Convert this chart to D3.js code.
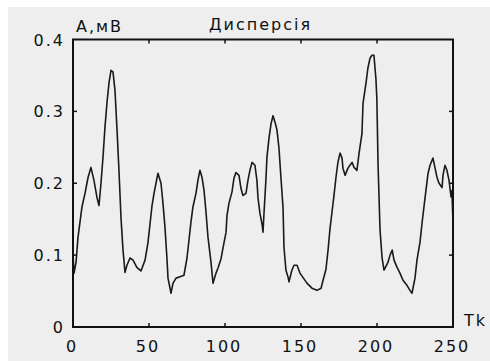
<!DOCTYPE html>
<html>
<head>
<meta charset="utf-8">
<script src="https://cdn.jsdelivr.net/npm/d3@7/dist/d3.min.js"></script>
<style>
  html, body { margin: 0; padding: 0; background: #ffffff; }
  svg { display: block; }
  text { font-family: "DejaVu Sans", Verdana, sans-serif; font-size: 16px; fill: #111; letter-spacing: 2px; }
</style>
</head>
<body>
<svg id="chart" width="490" height="361"></svg>
<script>
// Sample index (Tk) and variance amplitude (A, mV)
const tk = [0, 0.7, 2, 3.3, 5.9, 7.9, 9.9, 11.8, 13.8, 15.8, 17.1, 18.4, 19.7, 21, 22.4, 23.7, 25, 26.3,
  27.6, 28.9, 30.3, 31.6, 32.9, 34.2, 35.5, 37.5, 39.5, 42, 44.7, 47.4, 49.3, 50.7, 52, 53.3, 54.6, 55.9,
  57.9, 59.2, 60.5, 61.8, 62.5, 64.5, 65.8, 67.8, 70.4, 73, 75, 76.3, 77.6, 78.9, 80.9, 82.2, 83.5, 84.9,
  86.2, 87.5, 88.8, 90.8, 92.1, 94.1, 95.4, 97.4, 98.7, 100.7, 101.3, 102.6, 104.6, 105.9, 107.2, 109.2,
  110.5, 111.8, 113.8, 115.1, 116.4, 117.8, 119.7, 121, 121.7, 123, 124.3, 125, 125.7, 126.9, 127.6, 128.9,
  130.3, 131.6, 132.9, 134.2, 135.5, 136.8, 138.2, 138.8, 140.1, 141.4, 142.1, 144, 145.4, 147.4, 149.3,
  153.9, 157.2, 160.5, 163.2, 164.5, 166.4, 167.8, 169, 170.4, 171.7, 173, 174.3, 175.7, 177, 177.6, 179,
  180.9, 182.2, 183.6, 184.9, 186.8, 188.2, 190.1, 190.8, 192.8, 194, 195.4, 196.7, 198, 199.3, 199.9,
  200.7, 202, 203.3, 204.6, 207.2, 208.6, 210, 211.2, 213.2, 215.1, 217.1, 219.7, 221.7, 223, 225, 226.3,
  228.3, 229.6, 230.9, 232.2, 233.6, 234.9, 236.8, 238.2, 239.5, 240.8, 242.8, 243.4, 244.7, 246, 247.4,
  248.7, 249.3, 250];
const amp = [0.10, 0.075, 0.09, 0.125, 0.167, 0.186, 0.208, 0.222, 0.204, 0.18, 0.169, 0.20, 0.235, 0.277,
  0.313, 0.34, 0.357, 0.355, 0.33, 0.277, 0.215, 0.151, 0.107, 0.076, 0.086, 0.096, 0.093, 0.083, 0.078,
  0.093, 0.117, 0.144, 0.169, 0.186, 0.2, 0.214, 0.2, 0.172, 0.139, 0.096, 0.068, 0.047, 0.061, 0.068, 0.07,
  0.072, 0.096, 0.121, 0.146, 0.167, 0.186, 0.204, 0.218, 0.208, 0.19, 0.16, 0.125, 0.09, 0.061, 0.075,
  0.082, 0.095, 0.11, 0.132, 0.155, 0.172, 0.188, 0.207, 0.215, 0.211, 0.193, 0.183, 0.186, 0.204, 0.218,
  0.229, 0.225, 0.204, 0.18, 0.158, 0.144, 0.132, 0.16, 0.204, 0.236, 0.262, 0.283, 0.294, 0.285, 0.274,
  0.249, 0.208, 0.165, 0.111, 0.079, 0.07, 0.063, 0.079, 0.086, 0.086, 0.075, 0.061, 0.054, 0.051, 0.054,
  0.065, 0.08, 0.107, 0.135, 0.16, 0.183, 0.208, 0.229, 0.242, 0.235, 0.221, 0.211, 0.221, 0.225, 0.229,
  0.222, 0.218, 0.242, 0.269, 0.311, 0.34, 0.36, 0.374, 0.378, 0.378, 0.345, 0.318, 0.225, 0.135, 0.097,
  0.079, 0.09, 0.1, 0.107, 0.093, 0.083, 0.075, 0.065, 0.058, 0.051, 0.047, 0.068, 0.093, 0.118, 0.144,
  0.167, 0.19, 0.214, 0.225, 0.235, 0.221, 0.208, 0.2, 0.194, 0.211, 0.225, 0.218, 0.204, 0.181, 0.19, 0.144];

const xTicks = [0, 50, 100, 150, 200, 250];
const yTicks = [0, 0.1, 0.2, 0.3, 0.4];
const xTickLabels = ["0", "50", "100", "150", "200", "250"];
const yTickLabels = ["0", "0.1", "0.2", "0.3", "0.4"];
const titleText = "Дисперсія";
const yAxisText = "A,мВ";
const xAxisText = "Tk";

const svg = d3.select("#chart");
const plotLeft = 73, plotRight = 453, plotTop = 39.5, plotBottom = 327;

// Panel background
svg.append("rect").attr("x", 8).attr("y", 7).attr("width", 482).attr("height", 354).attr("fill", "#eeeeee");

const x = d3.scaleLinear().domain([0, 250]).range([plotLeft, plotRight]);
const y = d3.scaleLinear().domain([0, 0.4]).range([plotBottom, plotTop]);

// Inward ticks on all four sides
const tickLen = 4;
const g = svg.append("g").attr("stroke", "#111").attr("stroke-width", 1.5);
xTicks.slice(1, -1).forEach(v => {
  g.append("line").attr("x1", x(v)).attr("x2", x(v)).attr("y1", plotBottom).attr("y2", plotBottom - tickLen);
  g.append("line").attr("x1", x(v)).attr("x2", x(v)).attr("y1", plotTop).attr("y2", plotTop + tickLen);
});
yTicks.slice(1, -1).forEach(v => {
  g.append("line").attr("x1", plotLeft).attr("x2", plotLeft + tickLen).attr("y1", y(v)).attr("y2", y(v));
  g.append("line").attr("x1", plotRight).attr("x2", plotRight - tickLen).attr("y1", y(v)).attr("y2", y(v));
});

// Data trace
const line = d3.line().x((d, i) => x(tk[i])).y(d => y(d));
svg.append("path").datum(amp).attr("d", line)
  .attr("fill", "none").attr("stroke", "#1a1a1a").attr("stroke-width", 1.6).attr("stroke-linejoin", "round");

// Frame
svg.append("rect").attr("x", plotLeft).attr("y", plotTop)
  .attr("width", plotRight - plotLeft).attr("height", plotBottom - plotTop)
  .attr("fill", "none").attr("stroke", "#111").attr("stroke-width", 2);

// Tick labels
svg.append("g").selectAll("text").data(xTicks).join("text")
  .attr("x", d => x(d) - 1).attr("y", 352).attr("text-anchor", "middle")
  .text((d, i) => xTickLabels[i]);
svg.append("g").selectAll("text").data(yTicks).join("text")
  .attr("x", 65).attr("y", d => y(d) + 6).attr("text-anchor", "end")
  .text((d, i) => yTickLabels[i]);

// Titles
svg.append("text").attr("x", 76).attr("y", 32).text(yAxisText);
svg.append("text").attr("x", 209).attr("y", 30).text(titleText);
svg.append("text").attr("x", 464).attr("y", 326).text(xAxisText);
</script>
</body>
</html>
